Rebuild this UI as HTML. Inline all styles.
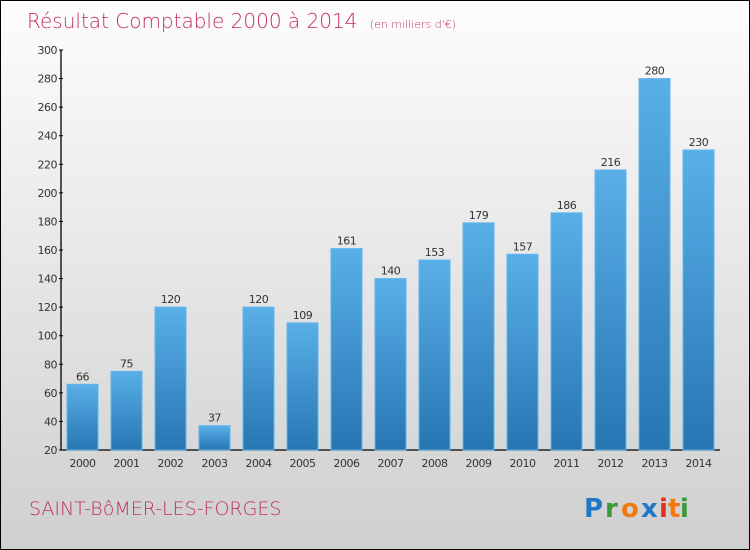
<!DOCTYPE html>
<html><head><meta charset="utf-8"><style>
body{margin:0;}
#wrap{position:relative;width:748px;height:548px;border:1px solid #000;background:linear-gradient(#fdfdfd,#cfcfcf);overflow:hidden;font-family:"DejaVu Sans","Liberation Sans",sans-serif;}
</style></head><body>
<div id="wrap">
<svg width="748" height="548">
<defs><linearGradient id="bg" x1="0" y1="0" x2="0" y2="1"><stop offset="0" stop-color="#5aafe8"/><stop offset="1" stop-color="#2676b4"/></linearGradient></defs>
<text x="26" y="27" font-size="20" fill="#c0305e" font-family="DejaVu Sans" style="font-weight:200">Résultat Comptable 2000 à 2014 <tspan font-size="11" dx="6">(en milliers d'€)</tspan></text>
<g id="axes"></g><g id="bars"></g>
<text x="28" y="514" font-size="19" fill="#c0305e" style="font-weight:200">SAINT-BôMER-LES-FORGES</text>
<g font-size="26" font-family="DejaVu Sans" font-weight="bold"><text x="583" y="516" fill="#2278c8">P</text><text x="604" y="516" fill="#3a9a3a">r</text><text x="620" y="516" fill="#f07a10">o</text><text x="640" y="516" fill="#2278c8">x</text><text x="658" y="516" fill="#e03020">i</text><text x="667" y="516" fill="#f07a10">t</text><text x="679" y="516" fill="#3a9a3a">i</text></g>
</svg></div>
<script>
const categories=["2000","2001","2002","2003","2004","2005","2006","2007","2008","2009","2010","2011","2012","2013","2014"];
const values=[66,75,120,37,120,109,161,140,153,179,157,186,216,280,230];
const yTicks=[20,40,60,80,100,120,140,160,180,200,220,240,260,280,300];
const NS="http://www.w3.org/2000/svg";
const y=v=>449-(v-20)*400/280;
const x=i=>66+i*44;
function mk(t,a,p){const e=document.createElementNS(NS,t);for(const k in a)e.setAttribute(k,a[k]);p.appendChild(e);return e;}
const ax=document.getElementById('axes'),bs=document.getElementById('bars');
const yl=mk('line',{x1:60,x2:60,y1:49,y2:449,stroke:'#000','stroke-width':1.3},ax);

const xl=mk('line',{x1:60,x2:719,y1:449,y2:449,stroke:'#000','stroke-width':1.3},ax);

yTicks.forEach(v=>{mk('line',{x1:58,x2:62,y1:y(v),y2:y(v),stroke:'#000'},ax);
const t=mk('text',{x:56,y:y(v)+4,'font-size':11,'text-anchor':'end',fill:'#333','letter-spacing':'-0.5'},ax);t.textContent=v;
});
categories.forEach((c,i)=>{const r=mk('rect',{x:x(i),y:y(values[i]),width:31,height:449-y(values[i]),fill:'url(#bg)',stroke:'#62b4ec','stroke-width':1},bs);

const l=mk('text',{x:x(i)+15.5,y:y(values[i])-4,'font-size':11,'text-anchor':'middle',fill:'#333','letter-spacing':'-0.5'},bs);l.textContent=values[i];

const t=mk('text',{x:x(i)+15.5,y:466,'font-size':11,'text-anchor':'middle',fill:'#333','letter-spacing':'-0.5'},bs);t.textContent=c;
});
</script></body></html>
